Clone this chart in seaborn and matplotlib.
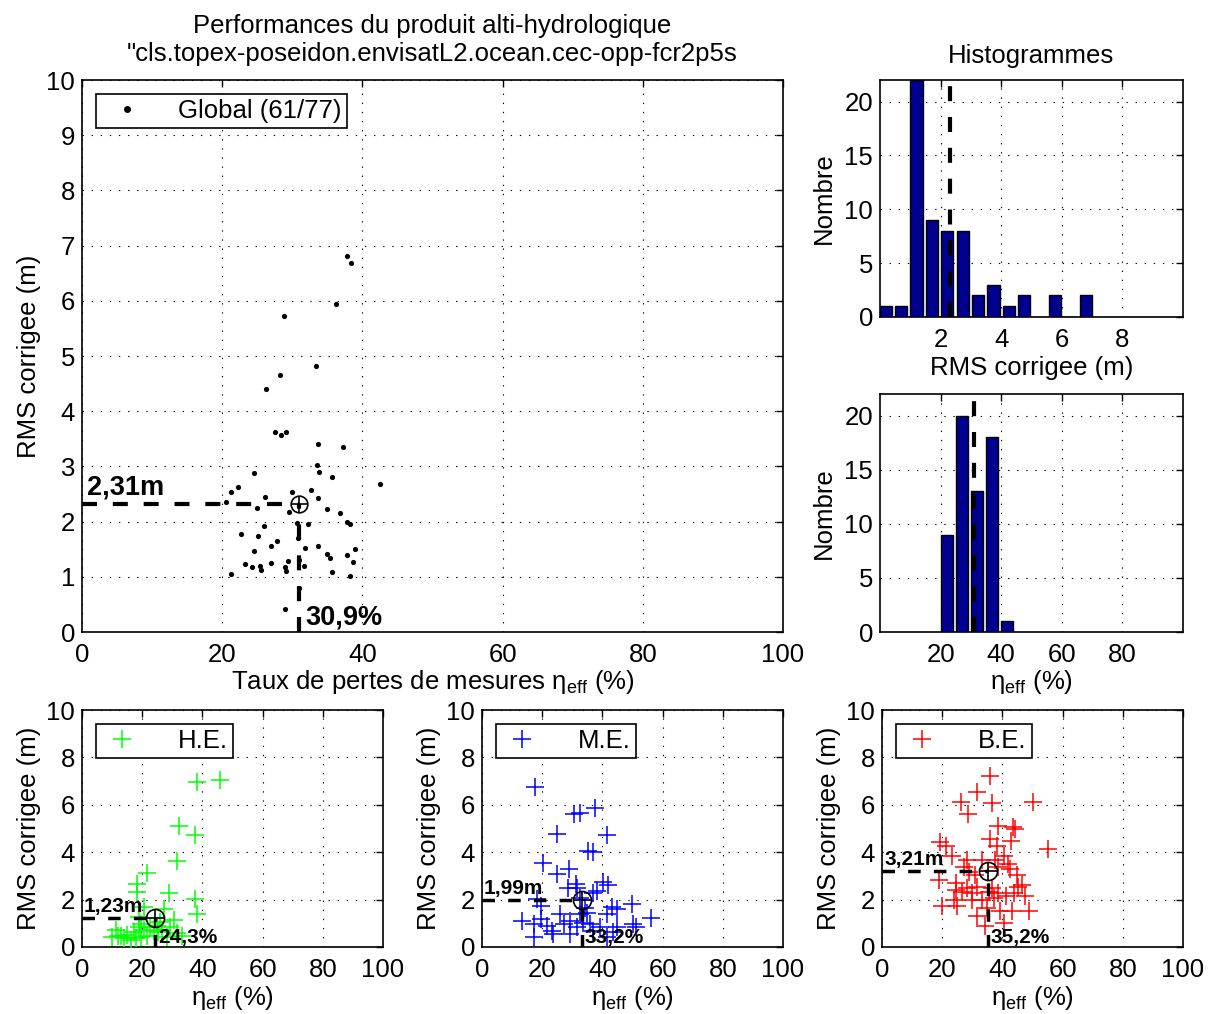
import numpy as np
import pandas as pd
import matplotlib
matplotlib.use("Agg")
import matplotlib.pyplot as plt
import seaborn as sns
from matplotlib.lines import Line2D

# Global scatter: taux de pertes (%) vs RMS corrigee (m)
glob_eta = [37.8, 38.4, 36.3, 28.8, 33.4, 28.3, 26.3, 27.6, 28.4, 29.1, 33.6, 37.3,
            33.5, 33.8, 24.6, 35.7, 42.5, 22.3, 21.3, 32.7, 30.0, 26.1, 33.6, 20.5,
            25.0, 29.5, 35.0, 36.8, 37.8, 38.2, 30.7, 32.3, 26.0, 22.7, 25.1, 27.8,
            26.9, 33.6, 31.8, 24.6, 38.9, 35.0, 35.4, 37.8, 29.4, 38.6, 23.3, 27.0,
            24.3, 25.4, 25.5, 28.9, 29.1, 31.6, 35.7, 21.3, 38.2, 28.9, 30.8, 30.9, 31.0]
glob_rms = [6.82, 6.68, 5.95, 5.73, 4.81, 4.66, 4.41, 3.62, 3.57, 3.62, 3.40, 3.36,
            3.03, 2.90, 2.88, 2.80, 2.68, 2.63, 2.54, 2.57, 2.53, 2.44, 2.42, 2.35,
            2.24, 2.17, 2.22, 2.16, 2.00, 1.95, 1.97, 1.95, 1.92, 1.78, 1.74, 1.65,
            1.56, 1.56, 1.52, 1.47, 1.50, 1.41, 1.34, 1.39, 1.29, 1.27, 1.24, 1.25,
            1.17, 1.20, 1.13, 1.18, 1.11, 1.20, 1.09, 1.05, 1.01, 0.41, 1.70, 1.30, 0.80]
glob_mean = (30.9, 2.31)
glob_txt = ("2,31m", "30,9%")

# Histogram of RMS corrigee
hist_rms_centers = [0.20, 0.71, 1.21, 1.72, 2.23, 2.73, 3.24, 3.75, 4.25, 4.76, 5.27, 5.78, 6.28, 6.79]
hist_rms_counts = [1, 1, 22, 9, 8, 8, 2, 3, 1, 2, 0, 2, 0, 2]
# Histogram of eta_eff
hist_eta_centers = [22, 27, 32, 37, 42]
hist_eta_counts = [9, 20, 13, 18, 1]

# H.E. (green)
he_eta = [38.1, 45.9, 32.2, 37.6, 31.5, 21.6, 18.4, 18.4, 28.8, 37.6, 20.5, 27.1,
          38.1, 30.4, 29.3, 11.2, 11.8, 15.1, 17.3, 18.9, 20.5, 21.6, 17.8, 19.5,
          22.7, 26.6, 28.2, 31.5, 33.2, 14.0, 16.2, 25.1, 18.9, 26.0, 10.1, 12.9,
          19.5, 23.8, 24.9]
he_rms = [6.95, 7.05, 5.09, 4.74, 3.62, 3.12, 2.67, 2.32, 2.28, 2.04, 1.69, 1.62,
          1.41, 1.13, 0.85, 0.71, 0.46, 0.50, 0.64, 0.85, 0.71, 0.46, 0.36, 0.43,
          0.85, 0.71, 0.43, 0.57, 0.46, 0.36, 0.29, 0.64, 1.27, 1.06, 0.41, 0.48,
          0.97, 0.69, 0.90]
he_mean = (24.3, 1.23)
he_txt = ("1,23m", "24,3%")

# M.E. (blue)
me_eta = [17.6, 37.4, 30.4, 32.4, 24.9, 41.4, 35.1, 37.0, 20.2, 28.8, 24.9, 31.1,
          31.5, 40.3, 41.9, 28.6, 37.0, 38.1, 18.4, 19.5, 32.6, 34.3, 43.1, 44.7,
          49.7, 56.3, 13.4, 17.3, 19.5, 21.6, 23.3, 26.0, 27.1, 29.3, 31.5, 33.7,
          35.9, 37.0, 39.2, 41.4, 43.6, 44.7, 50.2, 51.3, 17.3, 23.6, 29.3, 41.4,
          32.6, 34.8]
me_rms = [6.73, 5.86, 5.61, 5.65, 4.77, 4.71, 4.07, 4.01, 3.55, 3.30, 3.06, 2.64,
          2.50, 2.76, 2.62, 2.48, 2.29, 2.36, 2.01, 1.73, 2.08, 1.66, 1.69, 1.59,
          1.80, 1.24, 1.10, 0.97, 1.17, 0.90, 0.69, 1.38, 0.97, 1.10, 0.83, 1.03,
          0.97, 0.69, 0.83, 1.38, 0.62, 0.83, 0.97, 0.83, 0.41, 0.55, 0.55, 0.41,
          1.38, 1.45]
me_mean = (33.2, 1.99)
me_txt = ("1,99m", "33,2%")

# B.E. (red)
be_eta = [36.0, 31.6, 26.3, 36.5, 50.3, 28.6, 38.7, 43.4, 44.3, 36.0, 42.9, 19.4,
          21.1, 38.2, 55.3, 23.3, 28.3, 33.2, 37.6, 40.4, 42.6, 27.2, 28.8, 31.0,
          38.7, 41.8, 45.0, 18.9, 24.5, 28.4, 31.7, 36.7, 38.6, 45.2, 46.6, 24.5,
          26.7, 30.0, 35.4, 37.1, 41.2, 43.7, 47.6, 23.9, 25.0, 20.0, 33.2, 39.3,
          43.2, 48.7, 31.6, 34.3, 40.4, 34.9, 29.9]
be_rms = [7.21, 6.55, 6.11, 6.07, 6.11, 5.61, 5.10, 5.06, 4.97, 4.55, 4.48, 4.41,
          4.28, 4.28, 4.14, 3.86, 3.66, 3.68, 3.66, 3.86, 3.31, 3.38, 3.17, 3.03,
          3.38, 3.52, 3.03, 2.83, 2.69, 2.48, 2.55, 2.48, 2.28, 2.55, 2.62, 2.41,
          2.34, 2.28, 2.34, 2.07, 2.14, 2.28, 2.14, 2.00, 1.72, 1.72, 2.00, 1.52,
          1.52, 1.52, 1.31, 0.90, 1.03, 1.66, 2.00]
be_mean = (35.2, 3.21)
be_txt = ("3,21m", "35,2%")

FS = 18.5

sns.set_style("white")
plt.rcParams["font.family"] = ["Liberation Sans", "DejaVu Sans"]
plt.rcParams["mathtext.fontset"] = "custom"
plt.rcParams["mathtext.rm"] = "Liberation Sans"
plt.rcParams["font.size"] = FS
for k in ["text.color", "axes.labelcolor", "xtick.color", "ytick.color"]:
    plt.rcParams[k] = "black"

W, H = 1208, 1014
fig = plt.figure(figsize=(W / 100, H / 100), dpi=100)


def rect(left, top, right, bottom):
    return [left / W, 1 - bottom / H, (right - left) / W, (bottom - top) / H]


DASH = (0, (3.6, 3.8))
GRID = dict(color="black", linestyle=(0, (1.2, 7)), linewidth=0.8)
eta_label = "η$_{\\mathrm{eff}}$ (%)"


def style_axes(ax):
    ax.grid(True, **GRID)
    ax.set_axisbelow(True)
    ax.tick_params(direction="in", length=5, width=1, top=True, right=True,
                   labelsize=FS)
    ax.tick_params(axis="x", pad=8)
    ax.tick_params(axis="y", pad=5)
    for s in ax.spines.values():
        s.set_linewidth(1.2)
        s.set_color("black")


def mean_marks(ax, mean, txt, lw, fs, ms):
    mx, my = mean
    ax.plot([0, mx], [my, my], color="black", lw=lw, linestyle=DASH, zorder=4)
    ax.plot([mx, mx], [0, my], color="black", lw=lw, linestyle=DASH, zorder=4)
    ax.plot([mx], [my], marker="o", ms=ms, mfc="none", mec="black", mew=1.2, zorder=5)
    ax.plot([mx], [my], marker="+", ms=ms, color="black", mew=1.2, zorder=5)
    ax.text(0.7, my + 0.08, txt[0], fontsize=fs, fontweight="bold", ha="left", va="bottom", zorder=6)
    ax.text(mx + 1.0, 0.02, txt[1], fontsize=fs, fontweight="bold", ha="left", va="bottom", zorder=6)


def hist_bars(ax, centers, counts):
    w = centers[1] - centers[0]
    edges = [c - w / 2 for c in centers] + [centers[-1] + w / 2]
    dfh = pd.DataFrame({"c": centers, "n": counts})
    sns.histplot(data=dfh, x="c", weights="n", bins=edges, shrink=0.8,
                 color="#00008f", edgecolor="black", linewidth=1, alpha=1, ax=ax, zorder=3)


# ---- main scatter
ax = fig.add_axes(rect(82, 80, 783, 632))
df_glob = pd.DataFrame({"eta": glob_eta, "rms": glob_rms})
sns.scatterplot(data=df_glob, x="eta", y="rms", ax=ax, color="black", s=14,
                edgecolor="black", linewidth=0, zorder=3)
mean_marks(ax, glob_mean, glob_txt, 3, 19.5, 12)
ax.set_xlim(0, 100)
ax.set_ylim(0, 10)
ax.set_xticks(range(0, 101, 20))
ax.set_yticks(range(0, 11))
ax.set_xlabel("Taux de pertes de mesures " + eta_label, labelpad=1)
ax.set_ylabel("RMS corrigee (m)", labelpad=4)
ax.set_title("Performances du produit alti-hydrologique\n\"cls.topex-poseidon.envisatL2.ocean.cec-opp-fcr2p5s",
             fontsize=FS, pad=14, linespacing=1.2)
style_axes(ax)
h = Line2D([], [], marker=".", color="black", linestyle="none", ms=8)
ax.legend([h], ["Global (61/77)"], loc="upper left", fancybox=False, edgecolor="black",
          framealpha=1, fontsize=FS, handlelength=2.0, handletextpad=1.0,
          borderaxespad=0.55, borderpad=0.2).get_frame().set_linewidth(1.2)

# ---- histogram RMS
axh1 = fig.add_axes(rect(880, 80, 1183, 317))
hist_bars(axh1, hist_rms_centers, hist_rms_counts)
axh1.plot([glob_mean[1]] * 2, [0, 22], color="black", lw=3, linestyle=DASH, zorder=4)
axh1.set_xlim(0, 10)
axh1.set_ylim(0, 22)
axh1.set_xticks([2, 4, 6, 8])
axh1.set_yticks([0, 5, 10, 15, 20])
axh1.set_xlabel("RMS corrigee (m)", labelpad=3)
axh1.set_ylabel("Nombre", labelpad=6)
axh1.set_title("Histogrammes", fontsize=FS, pad=12)
style_axes(axh1)

# ---- histogram eta
axh2 = fig.add_axes(rect(880, 394, 1183, 632))
hist_bars(axh2, hist_eta_centers, hist_eta_counts)
axh2.plot([glob_mean[0]] * 2, [0, 22], color="black", lw=3, linestyle=DASH, zorder=4)
axh2.set_xlim(0, 100)
axh2.set_ylim(0, 22)
axh2.set_xticks([20, 40, 60, 80])
axh2.set_yticks([0, 5, 10, 15, 20])
axh2.set_xlabel(eta_label, labelpad=1)
axh2.set_ylabel("Nombre", labelpad=6)
style_axes(axh2)

# ---- bottom panels
panels = [
    (82, he_eta, he_rms, he_mean, he_txt, "#00ff00", "H.E."),
    (482, me_eta, me_rms, me_mean, me_txt, "#0000ff", "M.E."),
    (882, be_eta, be_rms, be_mean, be_txt, "#ff0000", "B.E."),
]
for left, eta, rms, mean, txt, col, name in panels:
    axb = fig.add_axes(rect(left, 710, left + 301, 947))
    dfp = pd.DataFrame({"eta": eta, "rms": rms})
    sns.scatterplot(data=dfp, x="eta", y="rms", ax=axb, marker="+", s=160,
                    color=col, linewidth=1.1, zorder=3)
    mean_marks(axb, mean, txt, 2.5, 15, 13)
    axb.set_xlim(0, 100)
    axb.set_ylim(0, 10)
    axb.set_xticks(range(0, 101, 20))
    axb.set_yticks(range(0, 11, 2))
    axb.set_xlabel(eta_label, labelpad=1)
    axb.set_ylabel("RMS corrigee (m)", labelpad=4)
    style_axes(axb)
    hb = Line2D([], [], marker="+", color=col, linestyle="none", ms=13, mew=1.1)
    axb.legend([hb], [name], loc="upper left", fancybox=False, edgecolor="black",
               framealpha=1, fontsize=FS, handlelength=1.6, handletextpad=1.4,
               borderaxespad=0.55, borderpad=0.2).get_frame().set_linewidth(1.2)

fig.savefig("out.png", dpi=100, facecolor="white")
